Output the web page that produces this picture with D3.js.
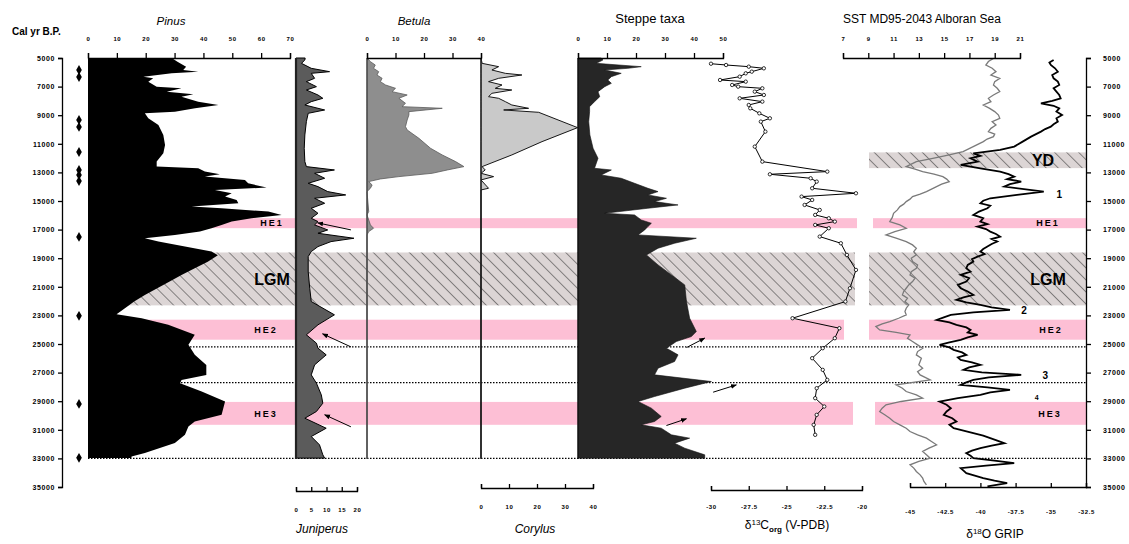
<!DOCTYPE html>
<html><head><meta charset="utf-8">
<script src="https://cdn.jsdelivr.net/npm/d3@7"></script>
<style>body{margin:0;background:#fff} svg{display:block} text{font-family:"Liberation Sans",Arial,sans-serif}</style>
</head><body><svg id="c" width="1129" height="544"></svg>
<script>
// ---------------- DATA ----------------
const ageTicks = d3.range(5000, 35001, 2000);
const pinusTicks = [0,10,20,30,40,50,60,70];
const juniperusTicks = [0,5,10,15,20];
const betulaTicks = [0,10,20,30,40];
const corylusTicks = [0,10,20,30,40];
const steppeTicks = [0,10,20,30,40,50];
const d13cTicks = [-30,-27.5,-25,-22.5,-20];
const sstTicks = [7,9,11,13,15,17,19,21];
const gripTicks = [-45,-42.5,-40,-37.5,-35,-32.5];

// radiocarbon dates (cal yr BP)
const dates = [5840,6330,9330,9820,11570,12830,13180,13600,17510,23030,29190,32960];

// [age, %]
const pinus = [[5000,29],[5256,31],[5606,34],[5839,33],[5955,38.2],[6072,29],[6305,19.2],[6421,22.6],[6654,20.9],[7004,23.8],[7120,32.4],[7353,27.3],[7539,36.5],[7703,32.4],[8052,38.2],[8285,45.2],[8518,37.1],[8751,30.1],[8868,19.7],[9217,20.9],[9683,24.4],[10382,26.1],[11081,26.7],[11664,26.1],[12246,23.8],[12596,23.8],[12712,38.2],[12945,40.5],[13131,45.7],[13295,40.5],[13528,54.4],[13761,55.5],[14063,61.9],[14227,44],[14460,49.8],[14693,47.5],[14926,51.5],[15159,52.1],[15392,35.9],[15508,46.3],[15741,62.5],[15974,67.1],[16207,56.7],[16440,49.8],[16673,46.3],[16906,42.8],[17139,38.8],[17372,30.1],[17605,19.7],[17838,24.4],[18188,33.6],[18537,42.8],[18800,45],[19240,41.5],[19700,37],[20170,32.4],[20630,28.3],[21100,24],[21570,19.7],[22030,16],[22500,12.8],[22920,9.9],[23200,18.6],[23660,27.8],[24360,37],[24710,35.9],[25060,34.8],[25410,35.9],[25760,37],[26460,41],[27160,41],[27510,32.4],[27740,31.9],[28320,39.4],[29020,47.5],[29950,46.3],[30420,37],[30770,34.8],[31350,33.6],[31930,30.1],[32630,19.7],[32870,15.1],[32980,15]];

const juniperus = [[5000,3],[5140,2.9],[5373,1.8],[5722,5],[5955,11],[6072,5],[6421,6.1],[6654,3.4],[7004,6.7],[7237,3.4],[7586,7.2],[7819,8.8],[8052,5],[8285,2.9],[8635,9.4],[8868,4],[9450,3.4],[10382,2.9],[11314,2.7],[12246,2.9],[12596,3.4],[12829,12.6],[13062,6.1],[13411,9.4],[13761,4],[13994,7.2],[14343,10.4],[14576,16.3],[14809,6.1],[15159,9.4],[15508,5],[15858,7.2],[16207,5],[16440,7.2],[16673,6.1],[17023,10.4],[17256,7.2],[17605,19],[17838,11.5],[18188,7.2],[18537,5],[18887,4],[19940,4],[21100,4.5],[22030,5],[22960,12.6],[23660,7.2],[24360,3.4],[24940,6.7],[25290,7.2],[25760,9.9],[26460,6.1],[27160,5],[27740,6.7],[28560,8.3],[29140,8.8],[29720,6.7],[30190,2.9],[30890,9.9],[31470,5],[32050,7.7],[32750,8.8],[32980,9.4]];

const betula = [[5000,0],[5256,1.2],[5489,2.9],[5722,2.3],[5955,4.1],[6188,3.5],[6421,5.3],[6654,4.7],[6887,6.5],[7120,10],[7353,8.8],[7586,14.1],[7819,11.2],[8169,13.5],[8402,12.3],[8518,26.4],[8751,14.7],[8984,14.7],[9334,14.1],[9800,13.5],[10033,14.1],[10615,18.2],[11314,22.3],[11780,26.4],[12246,31.1],[12596,34],[12829,28.2],[13062,22.9],[13295,11.2],[13458,4.7],[13644,0.6],[13877,1.8],[14110,1.2],[14343,0],[15741,0.6],[15974,0],[16673,1.2],[16906,2.3],[17139,0.6],[17372,0],[33000,0]];

const corylus = [[5000,0],[5373,0.4],[5606,6.3],[5839,3.9],[6072,8.7],[6188,14.6],[6421,6.3],[6654,2.7],[6887,7.5],[7120,5.1],[7237,11],[7470,3.9],[7703,2.7],[7819,6.3],[8052,8.7],[8285,11],[8518,17],[8635,8.1],[8798,20.6],[9869,34.5],[10848,21.8],[11780,11],[12596,0.4],[12829,1.5],[13062,0],[13295,4.5],[13528,0],[14110,2.7],[14227,0],[33000,0]];

const steppe = [[5000,8],[5140,8.6],[5373,6.3],[5606,21.8],[5722,17.2],[5839,9.2],[6072,14.9],[6305,11.5],[6538,10.3],[6771,11.5],[7004,9.2],[7353,6.9],[7703,7.5],[8052,5.7],[8402,4],[8751,4],[9450,3.7],[10382,4.1],[11314,5.2],[12013,6.9],[12712,5.7],[12829,11.5],[13178,8],[13411,14.9],[13761,19.5],[14110,24.1],[14343,27.6],[14576,24.1],[14809,30.5],[15042,26.4],[15275,34.5],[15508,24.1],[15858,9.2],[15974,19.5],[16324,21.8],[16557,25.3],[16790,24.1],[17023,23],[17372,20.7],[17605,40.8],[17955,33.3],[18304,27.6],[18770,23.6],[19469,27.6],[20168,32.2],[20867,36.8],[22032,37.4],[23197,38.5],[24129,40.8],[24479,39.1],[24828,33.9],[25294,30.5],[25760,34.5],[26226,33.3],[26692,27.6],[27158,26.4],[27624,46],[28090,36.8],[28673,26.4],[29022,20.7],[29488,25.3],[30071,28.7],[30420,26.4],[30653,21.8],[30886,28.7],[31352,32.2],[31585,38.5],[31935,33.3],[32284,36.8],[32750,43.7],[32983,43.7]];

// [age, permil]
const d13c = [[5400,-30],[5490,-29],[5606,-27.5],[5722,-26.5],[5955,-27.3],[6072,-27.7],[6305,-28.1],[6538,-29.4],[6654,-27.7],[6887,-28.6],[7004,-28.2],[7120,-26.6],[7353,-27.1],[7586,-26.5],[7819,-28.1],[8052,-26.6],[8285,-27.5],[8518,-27.4],[8868,-26.8],[9217,-26.1],[9450,-26.7],[10149,-26.4],[11198,-27.1],[12246,-26.6],[12945,-22.3],[13131,-26.1],[13411,-23.4],[13644,-23],[14110,-23.3],[14460,-20.4],[14693,-24],[14926,-23.3],[15275,-23.8],[15625,-22.8],[15974,-23.1],[16207,-22.2],[16440,-21.8],[16673,-23.1],[16906,-22.2],[17489,-22.8],[17955,-21.4],[18770,-21],[19819,-20.4],[21100,-20.8],[22032,-21.1],[23197,-24.6],[23896,-21.5],[24595,-21.8],[25294,-22.6],[25993,-23.3],[26809,-22.6],[27508,-22.3],[28090,-23],[28789,-23.1],[29372,-22.5],[29954,-23],[30653,-23.2],[31352,-23.1]];

// [age, degC]
const sst = [[5023,18.9],[5250,18.5],[5489,18.3],[5720,18.8],[5955,19.1],[6190,18.7],[6421,19.4],[6650,19.0],[6887,18.9],[7120,19.2],[7353,19.4],[7590,18.9],[7819,18.5],[8050,18.7],[8285,18.1],[8520,18.6],[8751,19],[8990,19.3],[9217,19.4],[9450,18.8],[9683,19.1],[9920,18.7],[10149,18.5],[10320,19.0],[10499,18.9],[10670,18.4],[10848,18.1],[11198,17.3],[11547,16.5],[11780,15.4],[12013,14.1],[12246,12.8],[12420,12.4],[12596,12],[12770,12.7],[12945,13.3],[13120,14.2],[13295,14.9],[13470,15.2],[13644,15.4],[13820,14.8],[13994,14.4],[14170,14.0],[14343,13.6],[14520,13.1],[14693,12.5],[14870,12.3],[15042,12],[15220,11.8],[15392,11.5],[15620,11.3],[15858,11],[16150,10.9],[16440,10.7],[16670,11.5],[16906,12],[17140,11.1],[17372,10.4],[17600,11.2],[17838,12],[18070,12.5],[18304,12.8],[18540,12.6],[18770,12.8],[19000,12.4],[19236,12.5],[19470,12.9],[19702,12.8],[19940,12.4],[20168,12.3],[20400,12.7],[20634,12.5],[20870,12.2],[21100,12],[21330,11.8],[21566,11.7],[21800,12.1],[22032,11.9],[22265,12.2],[22498,12],[22730,11.9],[22964,12],[23200,11.4],[23430,10.7],[23600,10.1],[23780,9.6],[24013,9.9],[24190,11.2],[24362,12.3],[24600,12.1],[24828,12.5],[25060,12.9],[25294,13.3],[25530,12.9],[25760,12.8],[25990,13.2],[26226,13.1],[26460,13.0],[26692,13.3],[26930,12.9],[27158,13.1],[27508,13.9],[27857,11.2],[28090,11.7],[28323,12],[28560,12.8],[28789,13.3],[29020,11.6],[29255,10.4],[29488,10.1],[29721,9.9],[29950,10.3],[30187,10.7],[30420,11.0],[30653,11.5],[30886,12.0],[31119,12.3],[31350,12.9],[31585,13.6],[31820,14.0],[32051,14.4],[32280,13.8],[32517,13.3],[32750,13.6],[32983,13.9],[33210,13.0],[33449,12.3],[33680,12.6],[33915,12.8],[34150,13.1],[34381,13.3],[34610,13.4],[34847,13.6]];

// [age, permil]
const grip = [[5140,-34.8],[5320,-35.1],[5489,-35],[5720,-34.7],[5955,-34.5],[6190,-34.9],[6421,-34.8],[6650,-34.5],[6887,-34.4],[7120,-34.8],[7353,-34.6],[7590,-34.4],[7819,-34.3],[8000,-34.9],[8169,-35.7],[8340,-34.8],[8518,-34.4],[8750,-34.6],[8984,-34.2],[9220,-34.6],[9450,-34.5],[9630,-34.8],[9800,-35],[9970,-35.4],[10149,-35.7],[10499,-36.4],[10848,-37],[11198,-37.6],[11431,-38.6],[11664,-40.5],[11840,-40.0],[12013,-40.7],[12246,-40.2],[12479,-41.4],[12712,-40],[12945,-38.6],[13120,-38.0],[13295,-37.6],[13470,-38.1],[13644,-37.1],[13820,-37.9],[13994,-38.3],[14343,-35.5],[14576,-37.4],[14809,-39.3],[14980,-39.8],[15159,-40],[15330,-39.3],[15508,-39.5],[15740,-40.1],[15974,-40.5],[16200,-39.8],[16440,-40],[16620,-39.5],[16790,-40.2],[16960,-39.6],[17139,-39.3],[17310,-38.9],[17489,-38.6],[17660,-39.2],[17838,-38.8],[18010,-39.2],[18188,-39.5],[18360,-39.8],[18537,-40],[18710,-39.7],[18887,-40.2],[19060,-40.6],[19236,-40.5],[19470,-40.9],[19702,-41],[19940,-40.7],[20168,-41.4],[20400,-40.8],[20634,-41],[20870,-41.6],[21100,-41.4],[21330,-40.9],[21566,-40.5],[21740,-41.2],[21916,-41.7],[22090,-41.0],[22265,-40],[22440,-39.2],[22615,-37.9],[22790,-40.5],[22964,-42.1],[23140,-42.6],[23314,-43.1],[23490,-42.2],[23663,-41.7],[23840,-41.0],[24013,-40.7],[24190,-40.9],[24362,-40.2],[24540,-40.9],[24712,-41.4],[24890,-42.2],[25061,-42.9],[25240,-42.2],[25411,-41.9],[25590,-41.3],[25760,-41],[25930,-41.6],[26110,-41.4],[26280,-40.6],[26459,-40],[26630,-40.8],[26809,-41.2],[26980,-39.9],[27158,-37.1],[27330,-39.4],[27508,-40.5],[27680,-41.0],[27857,-41.4],[28030,-39.5],[28207,-37.9],[28380,-39.3],[28556,-40],[28790,-41.6],[29022,-42.9],[29250,-42.4],[29488,-42.1],[29720,-42.4],[29954,-42.6],[30190,-42.0],[30420,-41.7],[30650,-42.2],[30886,-41.9],[31060,-41.2],[31236,-40.5],[31410,-39.8],[31585,-39.3],[31760,-38.8],[31935,-38.3],[32110,-39.2],[32284,-40],[32460,-40.6],[32634,-41],[32810,-40.7],[32983,-40.5],[33160,-39.0],[33333,-37.6],[33510,-39.6],[33682,-41.4],[33860,-41.2],[34032,-41],[34210,-40.4],[34381,-39.8],[34560,-39.0],[34731,-38.1],[34964,-39.5]];

// event bands [start age, end age]
const bands = [
  {name:"YD",  a0:11600, a1:12700, kind:"hatch", left:false},
  {name:"HE1", a0:16200, a1:16900, kind:"pink",  left:true},
  {name:"LGM", a0:18600, a1:22300, kind:"hatch", left:true},
  {name:"HE2", a0:23300, a1:24700, kind:"pink",  left:true},
  {name:"HE3", a0:29050, a1:30650, kind:"pink",  left:true}
];
const dottedAges = [25200, 27700, 33000];
const gripEvents = [{t:"1",age:14580,v:-34.4},{t:"2",age:22690,v:-36.9},{t:"3",age:27230,v:-35.4},{t:"4",age:28700,v:-36.0}];
// arrows [ageTail, valTail, ageHead, valHead]
const junArrows = [[17020,18,16530,7.1],[25200,18,24290,8.7],[30790,18,29950,9.4]];
const stepArrows = [[25250,37.4,24590,43.7],[28370,46.6,27860,54.6],[30700,30.5,30230,37.4]];

// ---------------- LAYOUT ----------------
const svg = d3.select("#c");
const yAge = d3.scaleLinear().domain([5000,35000]).range([58,487]);
const xPin = d3.scaleLinear().domain([0,70]).range([88,290]);
const xJun = d3.scaleLinear().domain([0,20]).range([296,357]);
const xBet = d3.scaleLinear().domain([0,40]).range([367,481]);
const xCor = d3.scaleLinear().domain([0,40]).range([481,593]);
const xSte = d3.scaleLinear().domain([0,50]).range([578,723]);
const xD13 = d3.scaleLinear().domain([-30,-20]).range([711,862]);
const xSst = d3.scaleLinear().domain([7,21]).range([843,1020]);
const xGrp = d3.scaleLinear().domain([-45,-32.5]).range([910,1086]);

const defs = svg.append("defs");
const pat = defs.append("pattern").attr("id","hatch").attr("patternUnits","userSpaceOnUse")
  .attr("width",8.5).attr("height",8.5).attr("patternTransform","rotate(-45)");
pat.append("rect").attr("width",8.5).attr("height",8.5).attr("fill","#dcd5d5");
pat.append("line").attr("x1",0).attr("y1",0).attr("x2",0).attr("y2",8.5).attr("stroke","#3a3a3a").attr("stroke-width",1.1);
const arrowM = defs.append("marker").attr("id","ah").attr("viewBox","0 0 10 10").attr("refX",9).attr("refY",5)
  .attr("markerWidth",6).attr("markerHeight",6).attr("orient","auto");
arrowM.append("path").attr("d","M0,1L10,5L0,9Z").attr("fill","#000");

const leftEnd = {YD:0, HE1:857, LGM:855, HE2:844, HE3:853};
const rightStart = {YD:869, HE1:873, LGM:869, HE2:869, HE3:875};
const fillOf = b => b.kind==="pink" ? "#fdbfd5" : "url(#hatch)";
const gB = svg.append("g");
bands.forEach(b=>{
  const y0 = yAge(b.a0), y1 = yAge(b.a1);
  if (b.left) gB.append("rect").attr("x",88).attr("y",y0).attr("width",leftEnd[b.name]-88).attr("height",y1-y0).attr("fill",fillOf(b));
  gB.append("rect").attr("x",rightStart[b.name]).attr("y",y0).attr("width",1086-rightStart[b.name]).attr("height",y1-y0).attr("fill",fillOf(b));
});
// dotted lines
svg.append("g").selectAll("line").data(dottedAges).join("line")
  .attr("x1",88).attr("x2",1086).attr("y1",d=>yAge(d)).attr("y2",d=>yAge(d))
  .attr("stroke","#000").attr("stroke-width",1.2).attr("stroke-dasharray","1.5,1.5");

function areaFor(x){ return d3.area().y(d=>yAge(d[0])).x0(x(0)).x1(d=>x(d[1])); }
svg.append("path").datum(pinus).attr("d",areaFor(xPin)).attr("fill","#000");
svg.append("path").datum(juniperus).attr("d",areaFor(xJun)).attr("fill","#5b5b5b").attr("stroke","#000").attr("stroke-width",1);
svg.append("path").datum(betula).attr("d",areaFor(xBet)).attr("fill","#8e8e8e").attr("stroke","#5a5a5a").attr("stroke-width",0.8);
svg.append("path").datum(corylus).attr("d",areaFor(xCor)).attr("fill","#c9c9c9").attr("stroke","#000").attr("stroke-width",0.9);
svg.append("path").datum(steppe).attr("d",areaFor(xSte)).attr("fill","#262626").attr("stroke","#111").attr("stroke-width",0.6);

// baselines
const baseLines = [[xJun(0),2.2,"#222"],[xBet(0),1.3,"#444"],[xCor(0),1.3,"#222"],[xSte(0),1.3,"#111"]];
svg.append("g").selectAll("line").data(baseLines).join("line")
  .attr("x1",d=>d[0]).attr("x2",d=>d[0]).attr("y1",yAge(5000)).attr("y2",yAge(33050))
  .attr("stroke",d=>d[2]).attr("stroke-width",d=>d[1]);

// d13C
svg.append("path").datum(d13c).attr("d",d3.line().y(d=>yAge(d[0])).x(d=>xD13(d[1])))
  .attr("fill","none").attr("stroke","#000").attr("stroke-width",1);
svg.append("g").selectAll("circle").data(d13c).join("circle")
  .attr("cx",d=>xD13(d[1])).attr("cy",d=>yAge(d[0])).attr("r",1.7)
  .attr("fill","#fff").attr("stroke","#000").attr("stroke-width",0.8);
// SST
svg.append("path").datum(sst).attr("d",d3.line().y(d=>yAge(d[0])).x(d=>xSst(d[1])))
  .attr("fill","none").attr("stroke","#7a7a7a").attr("stroke-width",1.3);
// GRIP
svg.append("path").datum(grip).attr("d",d3.line().y(d=>yAge(d[0])).x(d=>xGrp(d[1])))
  .attr("fill","none").attr("stroke","#000").attr("stroke-width",1.8);

// arrows
svg.append("g").selectAll("line").data(junArrows).join("line")
  .attr("x1",d=>xJun(d[1])).attr("y1",d=>yAge(d[0])).attr("x2",d=>xJun(d[3])).attr("y2",d=>yAge(d[2]))
  .attr("stroke","#000").attr("stroke-width",1).attr("marker-end","url(#ah)");
svg.append("g").selectAll("line").data(stepArrows).join("line")
  .attr("x1",d=>xSte(d[1])).attr("y1",d=>yAge(d[0])).attr("x2",d=>xSte(d[3])).attr("y2",d=>yAge(d[2]))
  .attr("stroke","#000").attr("stroke-width",1).attr("marker-end","url(#ah)");

// dates (diamonds)
svg.append("g").selectAll("path").data(dates).join("path")
  .attr("transform",d=>`translate(79,${yAge(d)})`).attr("d",d3.symbol(d3.symbolDiamond,28)).attr("fill","#000");

// ---------------- AXES ----------------
function styleAxis(g, fs){
  g.attr("font-size",fs).attr("font-family","Liberation Sans, Arial, sans-serif").attr("font-weight","bold");
  g.selectAll("text").attr("fill","#000").style("letter-spacing","0.6px");
  g.selectAll("path,line").attr("stroke","#000").attr("stroke-width",1.3);
}
const fmt = d=>String(d);
function topAxis(x, ticks){
  const g = svg.append("g").attr("transform","translate(0,58)")
    .call(d3.axisTop(x).tickValues(ticks).tickFormat(fmt).tickSize(5).tickPadding(12));
  styleAxis(g,6);
}
function bottomAxis(x, ticks, y, pad){
  const g = svg.append("g").attr("transform",`translate(0,${y})`)
    .call(d3.axisBottom(x).tickValues(ticks).tickFormat(fmt).tickSize(-4).tickPadding(pad));
  styleAxis(g,6);
}
topAxis(xPin, pinusTicks);
topAxis(xBet, betulaTicks);
topAxis(xSte, steppeTicks);
topAxis(xSst, sstTicks);
bottomAxis(xJun, juniperusTicks, 491, 17);
bottomAxis(xCor, corylusTicks, 488, 17);
bottomAxis(xD13, d13cTicks, 490, 15);
bottomAxis(xGrp, gripTicks, 487, 23);

const gl = svg.append("g").attr("transform","translate(62,0)")
  .call(d3.axisLeft(yAge).tickValues(ageTicks).tickFormat(fmt).tickSize(4).tickPadding(3));
styleAxis(gl,7);
const gr = svg.append("g").attr("transform","translate(1086,0)")
  .call(d3.axisRight(yAge).tickValues(ageTicks).tickFormat(fmt).tickSize(5).tickPadding(12));
styleAxis(gr,7);

// ---------------- TEXT ----------------
function txt(x,y,s,opt={}){
  const t = svg.append("text").attr("x",x).attr("y",y).text(s)
    .attr("font-size",opt.fs||11).attr("text-anchor",opt.anchor||"middle")
    .attr("font-weight",opt.fw||"normal").attr("font-style",opt.it?"italic":"normal").attr("fill","#000");
  if (opt.ls) t.style("letter-spacing",opt.ls);
  return t;
}
txt(12,35,"Cal yr B.P.",{fs:10,anchor:"start",fw:"bold"});
txt(171,25,"Pinus",{fs:11.5,it:true});
txt(414,25,"Betula",{fs:11.5,it:true});
txt(650,23,"Steppe taxa",{fs:13});
txt(843,23,"SST MD95-2043 Alboran Sea",{fs:12,anchor:"start"});
txt(322,533,"Juniperus",{fs:12,it:true});
txt(535,533,"Corylus",{fs:12,it:true});
const t13 = svg.append("text").attr("x",787).attr("y",529).attr("text-anchor","middle").attr("font-size",12);
t13.append("tspan").text("δ");
t13.append("tspan").text("13").attr("font-size",8).attr("dy",-4);
t13.append("tspan").text("C").attr("dy",4);
t13.append("tspan").text("org").attr("font-size",8).attr("font-weight","bold").attr("dy",3);
t13.append("tspan").text(" (V-PDB)").attr("dy",-3);
const t18 = svg.append("text").attr("x",995).attr("y",538).attr("text-anchor","middle").attr("font-size",12);
t18.append("tspan").text("δ");
t18.append("tspan").text("18").attr("font-size",8).attr("dy",-4);
t18.append("tspan").text("O GRIP").attr("dy",4);

// band labels
const mid = b => yAge((b.a0+b.a1)/2);
const bandLab = {
  YD:[[1043,16]], HE1:[[272,9],[1048,9]], LGM:[[272,16],[1048,16]], HE2:[[266,9],[1051,9]], HE3:[[266,9],[1050,9]]
};
bands.forEach(b=>{
  bandLab[b.name].forEach(([x,fs])=>{
    txt(x, mid(b)+fs*0.36, b.name,{fs:fs,fw:"bold",ls: fs<12?"2px":"0px"});
  });
});
svg.append("g").selectAll("text").data(gripEvents).join("text")
  .attr("x",d=>xGrp(d.v)).attr("y",d=>yAge(d.age)+3).text(d=>d.t)
  .attr("font-size",d=>d.t==="4"?7:10).attr("font-weight","bold").attr("text-anchor","middle");
</script></body></html>
